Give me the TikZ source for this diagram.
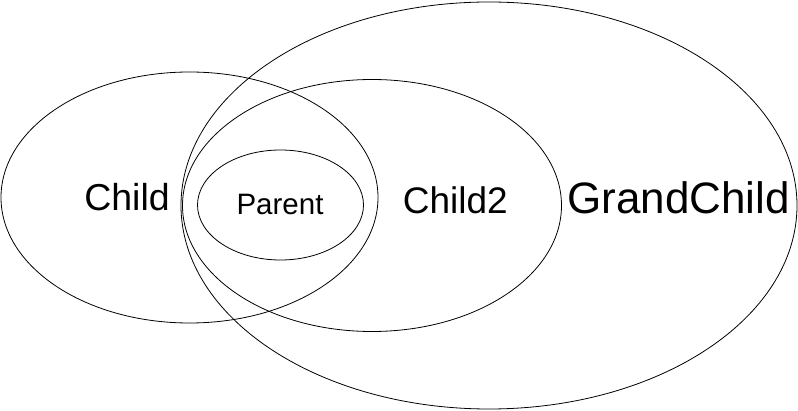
\documentclass[tikz,border=0pt]{standalone}
\usepackage{fontspec}
\setmainfont{Liberation Sans}
\begin{document}
\begin{tikzpicture}[x=1pt,y=-1pt,
  ring/.style={draw=black,line width=0.8pt},
  lbl/.style={anchor=base,inner sep=0pt}]
\useasboundingbox (0,0) rectangle (798,411);
\coordinate (cC) at (189.5,197.5);
\coordinate (cC2) at (372,205.5);
\coordinate (cG) at (489,205.5);
\coordinate (cP) at (280.5,205);
\draw[ring] (cC) ellipse [x radius=188.5pt, y radius=125.5pt];
\draw[ring] (cC2) ellipse [x radius=189.5pt, y radius=126pt];
\draw[ring] (cG) ellipse [x radius=308pt, y radius=203.5pt];
\draw[ring] (cP) ellipse [x radius=83pt, y radius=55pt];
\node[lbl,font=\fontsize{37.5}{40}\selectfont] (tC) at (127,210.7) {Child};
\node[lbl,font=\fontsize{29.5}{32}\selectfont] (tP) at (280,215) {Parent};
\node[lbl,font=\fontsize{37}{40}\selectfont] (tC2) at (455.3,213.3) {Child2};
\node[lbl,font=\fontsize{44}{46}\selectfont] (tG) at (678.7,214) {GrandChild};
\end{tikzpicture}
\end{document}
